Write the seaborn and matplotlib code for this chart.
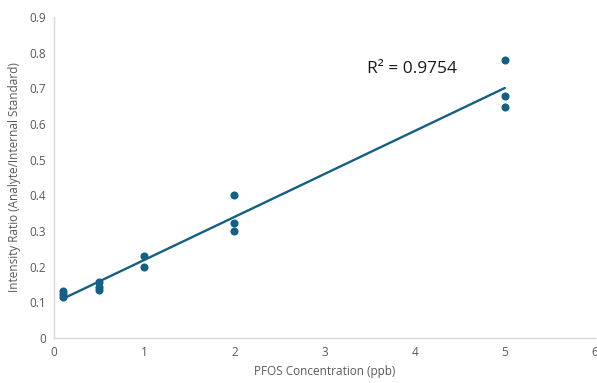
import numpy as np
import matplotlib
matplotlib.use('Agg')
import matplotlib.pyplot as plt
import seaborn as sns

conc = [0.1, 0.1, 0.1, 0.5, 0.5, 0.5, 1, 1, 2, 2, 2, 5, 5, 5]
ratio = [0.133, 0.122, 0.115, 0.158, 0.144, 0.135, 0.231, 0.198, 0.400, 0.322, 0.300, 0.780, 0.678, 0.648]
x_ticks = [0, 1, 2, 3, 4, 5, 6]
y_ticks = [0, 0.1, 0.2, 0.3, 0.4, 0.5, 0.6, 0.7, 0.8, 0.9]

sns.set_style('white')
plt.rcParams['font.family'] = ['Open Sans', 'DejaVu Sans']

teal = '#156082'
grey = '#595959'

fig = plt.figure(figsize=(5.97, 3.83), dpi=100)
ax = fig.add_axes([54/597, 45/383, 541/597, 321/383])

sns.scatterplot(x=conc, y=ratio, color=teal, s=34, edgecolor=teal, linewidth=0, ax=ax, zorder=3)

slope, intercept = np.polyfit(conc, ratio, 1)
xs = np.array([min(conc), max(conc)])
sns.lineplot(x=xs, y=slope * xs + intercept, color=teal, linewidth=1.7, ax=ax)

ax.set_xlim(0, 6)
ax.set_ylim(0, 0.9)
ax.set_xticks(x_ticks)
ax.set_xticklabels([str(t) for t in x_ticks])
ax.set_yticks(y_ticks)
ax.set_yticklabels(['0'] + [f'{t:.1f}' for t in y_ticks[1:]])
ax.tick_params(colors=grey, labelsize=8.5, length=0, pad=6)
for side in ['top', 'right']:
    ax.spines[side].set_visible(False)
for side in ['left', 'bottom']:
    ax.spines[side].set_color('#d9d9d9')
    ax.spines[side].set_linewidth(1)

ax.set_xlabel('PFOS Concentration (ppb)', color=grey, fontsize=8.5, labelpad=4)
ax.set_ylabel('Intensity Ratio (Analyte/Internal Standard)', color=grey, fontsize=8.5, labelpad=6)

ax.text(3.47, 0.742, 'R² = 0.9754', fontsize=12.5, color='#1a1a1a')

fig.savefig('out.png', dpi=100)
